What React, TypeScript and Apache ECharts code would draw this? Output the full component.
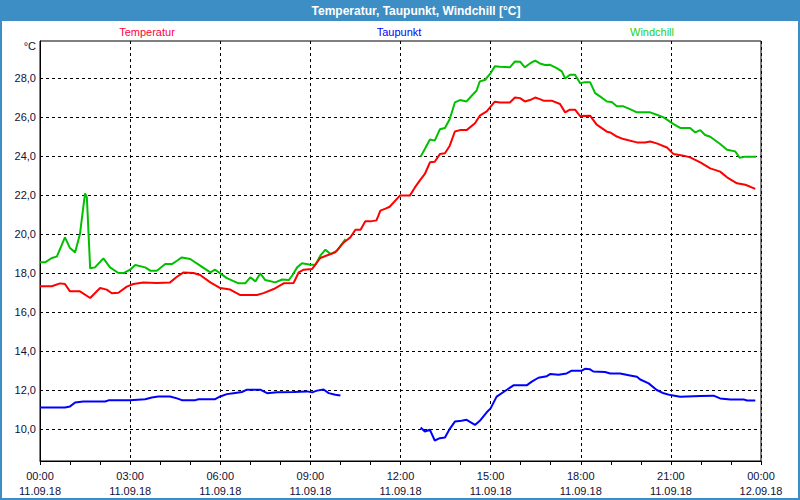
import React, { useEffect, useRef } from "react";
import * as echarts from "echarts";

// Time in decimal hours from 11.09.18 00:00
const tempTimes = [0.00, 0.39, 0.67, 0.83, 1.00, 1.33, 1.67, 2.00, 2.22, 2.39, 2.61, 2.89, 3.11, 3.44, 3.89, 4.33, 4.56, 4.78, 5.11, 5.33, 5.67, 6.00, 6.33, 6.67, 7.22, 7.44, 7.78, 8.11, 8.44, 8.61, 8.78, 9.06, 9.33, 9.61, 9.83, 10.11, 10.33, 10.50, 10.67, 10.83, 11.00, 11.20, 11.33, 11.50, 11.64, 11.98, 12.31, 12.48, 12.64, 12.81, 12.98, 13.14, 13.31, 13.48, 13.64, 13.81, 13.98, 14.20, 14.48, 14.64, 14.87, 14.98, 15.14, 15.31, 15.64, 15.81, 15.98, 16.14, 16.31, 16.48, 16.64, 16.76, 17.03, 17.31, 17.48, 17.64, 17.81, 17.98, 18.31, 18.53, 18.87, 18.98, 19.20, 19.42, 19.87, 20.14, 20.31, 20.53, 20.87, 21.09, 21.42, 21.64, 21.98, 22.31, 22.64, 22.87, 23.20, 23.48, 23.81];
const tempValues = [17.32, 17.32, 17.47, 17.44, 17.06, 17.06, 16.72, 17.23, 17.15, 16.96, 16.99, 17.30, 17.44, 17.52, 17.49, 17.52, 17.81, 18.03, 18.00, 17.90, 17.52, 17.23, 17.15, 16.87, 16.87, 16.97, 17.18, 17.47, 17.49, 18.03, 18.17, 18.21, 18.77, 18.94, 19.06, 19.57, 19.83, 20.22, 20.22, 20.65, 20.65, 20.70, 21.20, 21.30, 21.40, 21.97, 21.97, 22.39, 22.74, 23.08, 23.68, 23.71, 24.10, 24.14, 24.53, 25.26, 25.33, 25.33, 25.68, 26.07, 26.29, 26.50, 26.79, 26.75, 26.75, 27.00, 26.97, 26.80, 26.87, 27.00, 26.92, 26.84, 26.84, 26.67, 26.24, 26.38, 26.38, 26.05, 26.07, 25.61, 25.25, 25.21, 25.00, 24.87, 24.70, 24.70, 24.75, 24.65, 24.44, 24.10, 24.02, 23.93, 23.68, 23.37, 23.20, 22.91, 22.60, 22.53, 22.32];

const dewTimes = [0.00, 0.83, 1.00, 1.17, 1.44, 2.17, 2.28, 3.00, 3.50, 3.72, 3.94, 4.33, 4.56, 4.72, 5.17, 5.28, 5.83, 6.00, 6.22, 6.44, 6.72, 6.89, 7.33, 7.56, 7.89, 8.44, 8.89, 9.06, 9.22, 9.44, 9.61, 9.83, 10.00, 11.30, 12.67, 12.81, 12.98, 13.14, 13.31, 13.48, 13.64, 13.81, 14.03, 14.20, 14.48, 14.64, 14.87, 15.00, 15.20, 15.48, 15.76, 16.20, 16.37, 16.59, 16.87, 16.98, 17.26, 17.53, 17.70, 18.03, 18.14, 18.31, 18.42, 18.81, 18.98, 19.31, 19.64, 19.87, 19.98, 20.26, 20.53, 20.76, 20.98, 21.31, 21.98, 22.42, 22.64, 22.98, 23.42, 23.53, 23.81];
const dewValues = [11.10, 11.10, 11.16, 11.36, 11.41, 11.41, 11.47, 11.47, 11.53, 11.62, 11.67, 11.67, 11.57, 11.48, 11.48, 11.53, 11.53, 11.67, 11.79, 11.84, 11.90, 12.02, 12.02, 11.84, 11.88, 11.90, 11.93, 11.88, 11.97, 12.03, 11.84, 11.76, 11.72, null, 10.08, 9.87, 9.96, 9.41, 9.53, 9.57, 10.01, 10.38, 10.43, 10.47, 10.21, 10.42, 10.86, 11.06, 11.66, 11.95, 12.24, 12.24, 12.43, 12.63, 12.71, 12.82, 12.78, 12.85, 12.99, 12.99, 13.09, 13.06, 12.95, 12.92, 12.85, 12.85, 12.75, 12.68, 12.54, 12.34, 12.00, 11.83, 11.74, 11.66, 11.69, 11.71, 11.57, 11.52, 11.52, 11.46, 11.46];

const chillTimes = [0.00, 0.17, 0.39, 0.56, 0.83, 1.00, 1.17, 1.33, 1.44, 1.50, 1.56, 1.67, 1.83, 2.11, 2.33, 2.61, 2.78, 3.00, 3.17, 3.50, 3.67, 3.89, 4.17, 4.39, 4.56, 4.72, 5.00, 5.33, 5.67, 5.83, 6.00, 6.22, 6.61, 6.83, 7.00, 7.17, 7.33, 7.50, 7.83, 8.06, 8.28, 8.39, 8.56, 8.72, 9.00, 9.17, 9.33, 9.50, 9.67, 9.89, 10.17, 11.30, 12.67, 12.81, 12.98, 13.14, 13.31, 13.48, 13.64, 13.81, 13.98, 14.20, 14.37, 14.53, 14.64, 14.81, 14.98, 15.14, 15.31, 15.64, 15.81, 15.98, 16.14, 16.31, 16.48, 16.64, 16.81, 16.98, 17.20, 17.37, 17.48, 17.64, 17.81, 17.98, 18.14, 18.31, 18.48, 18.64, 18.87, 19.03, 19.20, 19.42, 19.64, 19.87, 20.31, 20.53, 20.76, 21.09, 21.31, 21.64, 21.81, 21.98, 22.14, 22.31, 22.64, 22.87, 23.14, 23.29, 23.48, 23.84];
const chillValues = [18.55, 18.55, 18.77, 18.84, 19.83, 19.28, 19.06, 20.00, 21.37, 22.08, 21.88, 18.24, 18.29, 18.75, 18.29, 18.00, 18.00, 18.17, 18.41, 18.29, 18.12, 18.12, 18.46, 18.46, 18.63, 18.80, 18.72, 18.38, 18.03, 18.17, 17.98, 17.74, 17.47, 17.47, 17.78, 17.57, 17.98, 17.64, 17.52, 17.67, 17.64, 17.86, 18.29, 18.50, 18.43, 18.43, 18.89, 19.20, 18.97, 19.15, 19.74, null, 23.97, 24.36, 24.85, 24.79, 25.37, 25.44, 25.90, 26.75, 26.87, 26.80, 27.09, 27.35, 27.83, 27.90, 28.21, 28.60, 28.58, 28.55, 28.85, 28.84, 28.55, 28.75, 28.89, 28.75, 28.67, 28.68, 28.51, 28.34, 27.98, 28.17, 28.17, 27.73, 27.79, 27.79, 27.23, 27.06, 26.80, 26.77, 26.55, 26.55, 26.41, 26.24, 26.24, 26.12, 25.98, 25.64, 25.44, 25.44, 25.21, 25.33, 25.08, 24.99, 24.62, 24.32, 24.24, 23.91, 23.97, 23.97];

const seriesNames = ["Temperatur", "Taupunkt", "Windchill"];
const seriesColors = ["#ff0000", "#0000ff", "#00c000"];
const legendColors = ["#ff0040", "#0000ff", "#20d020"];
const titleText = "Temperatur, Taupunkt, Windchill [°C]";
const unitText = "°C";
const dayLabels = ["11.09.18", "12.09.18"];

const zip = (t: number[], v: (number | null)[]) =>
  t.map((x, i) => [x, v[i] === null ? "-" : v[i]]);

export default function App() {
  const ref = useRef<HTMLDivElement>(null);
  useEffect(() => {
    if (!ref.current) return;
    const chart = echarts.init(ref.current, null, { renderer: "svg" });
    const font = "Liberation Sans";
    const textColor = "#101038";
    const datas = [zip(tempTimes, tempValues), zip(dewTimes, dewValues), zip(chillTimes, chillValues)];
    const legendX = [147, 399, 652];
    chart.setOption({
      animation: false,
      backgroundColor: "#ffffff",
      grid: {
        left: 40, right: 39, top: 41, bottom: 39,
        show: true, borderColor: "#000", borderWidth: 1,
      },
      xAxis: {
        type: "value",
        min: 0, max: 24, interval: 3,
        axisLine: { show: true, lineStyle: { color: "#000", width: 1 } },
        axisTick: { show: true, length: 4, lineStyle: { color: "#000" } },
        minorTick: { show: true, splitNumber: 3, length: 4, lineStyle: { color: "#000" } },
        splitLine: { show: true, lineStyle: { color: "#000", type: [3, 3], width: 1 } },
        axisLabel: {
          margin: 7,
          color: textColor,
          fontFamily: font,
          fontSize: 11,
          lineHeight: 15,
          formatter: (v: number) => {
            const h = v % 24;
            const day = v >= 24 ? dayLabels[1] : dayLabels[0];
            return String(h).padStart(2, "0") + ":00\n" + day;
          },
        },
      },
      yAxis: {
        type: "value",
        min: 8.36, max: 29.9,
        axisLine: { show: true, lineStyle: { color: "#000", width: 1 } },
        axisTick: { show: false, customValues: [10, 12, 14, 16, 18, 20, 22, 24, 26, 28] },
        axisLabel: {
          customValues: [10, 12, 14, 16, 18, 20, 22, 24, 26, 28],
          margin: 4,
          color: textColor,
          fontFamily: font,
          fontSize: 11,
          formatter: (v: number) => v.toFixed(1).replace(".", ","),
        },
        splitLine: { show: true, lineStyle: { color: "#000", type: [3, 3], width: 1 } },
      },
      series: seriesNames.map((name, i) => ({
        name,
        type: "line",
        data: datas[i],
        showSymbol: false,
        connectNulls: false,
        lineStyle: { color: seriesColors[i], width: 2 },
        itemStyle: { color: seriesColors[i] },
        z: i === 0 ? 4 : i === 2 ? 3 : 2,
      })),
      graphic: [
        { type: "rect", shape: { x: 0, y: 0, width: 800, height: 21 }, style: { fill: "#3d8ec4" }, z: 10 },
        { type: "rect", shape: { x: 0, y: 0, width: 2, height: 500 }, style: { fill: "#3d8ec4" }, z: 10 },
        { type: "rect", shape: { x: 798, y: 0, width: 2, height: 500 }, style: { fill: "#3d8ec4" }, z: 10 },
        { type: "rect", shape: { x: 0, y: 498, width: 800, height: 2 }, style: { fill: "#3d8ec4" }, z: 10 },
        {
          type: "text", x: 416, y: 11, z: 11,
          style: { text: titleText, fill: "#ffffff", font: `bold 12px ${font}`, align: "center", verticalAlign: "middle" },
        },
        {
          type: "text", x: 36, y: 46, z: 11,
          style: { text: unitText, fill: textColor, font: `11px ${font}`, align: "right", verticalAlign: "middle" },
        },
        ...seriesNames.map((n, i) => ({
          type: "text", x: legendX[i], y: 32, z: 11,
          style: { text: n, fill: legendColors[i], font: `11px ${font}`, align: "center", verticalAlign: "middle" },
        })),
      ],
    });
    return () => chart.dispose();
  }, []);
  return (
    <div
      ref={ref}
      style={{ position: "fixed", left: 0, top: 0, width: 800, height: 500 }}
    />
  );
}
